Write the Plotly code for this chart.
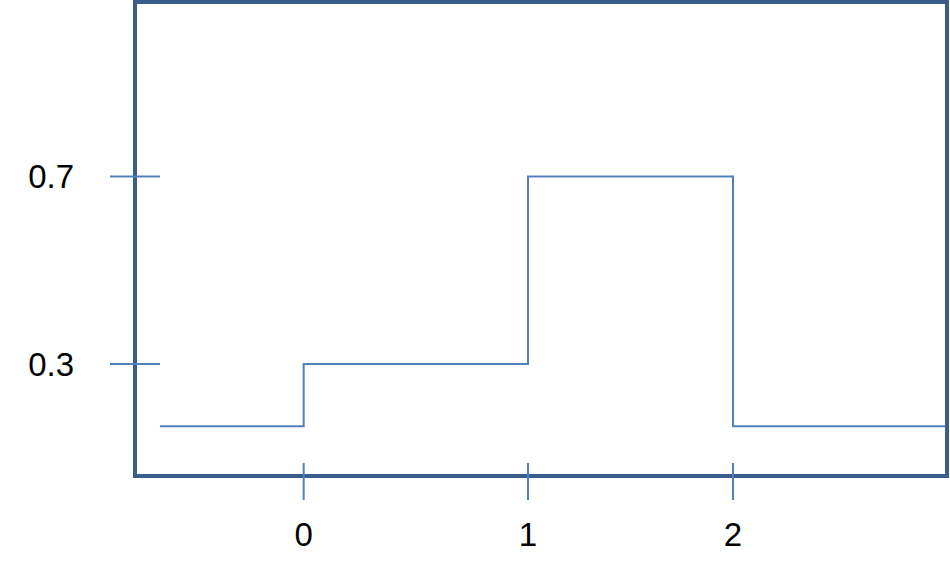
import plotly.graph_objects as go

# Step function
step_x = [-0.641, 0.0, 1.0, 1.914, 2.86]
step_y = [0.167, 0.3, 0.7, 0.167, 0.167]

# Axis ticks
x_tick_pos = [0.0, 1.0, 1.914]
x_tick_text = ["0", "1", "2"]
y_tick_pos = [0.3, 0.7]
y_tick_text = ["0.3", "0.7"]

LINE_COLOR = "#4F81BD"
BORDER_COLOR = "#385D8A"

W, H = 950, 579
ML, MR, MT, MB = 135, 3, 2, 103
PW = W - ML - MR
PH = H - MT - MB

fig = go.Figure()
fig.add_trace(go.Scatter(
    x=step_x, y=step_y, mode="lines",
    line=dict(shape="hv", color=LINE_COLOR, width=2),
    hoverinfo="skip", showlegend=False,
))

shapes = []
# frame
shapes.append(dict(type="rect", xref="paper", yref="paper", x0=0, x1=1, y0=0, y1=1,
                   line=dict(color=BORDER_COLOR, width=4), layer="above"))
# y tick marks crossing the frame
for v in y_tick_pos:
    shapes.append(dict(type="line", xref="paper", yref="y",
                       x0=-25 / PW, x1=25 / PW, y0=v, y1=v,
                       line=dict(color=LINE_COLOR, width=2)))
# x tick marks crossing the frame
for v in x_tick_pos:
    shapes.append(dict(type="line", xref="x", yref="paper",
                       x0=v, x1=v, y0=-24 / PH, y1=13 / PH,
                       line=dict(color=LINE_COLOR, width=2)))

fig.update_layout(
    width=W, height=H,
    margin=dict(l=ML, r=MR, t=MT, b=MB),
    paper_bgcolor="white", plot_bgcolor="white",
    shapes=shapes,
    font=dict(family="Liberation Sans, Arial, sans-serif", size=33, color="black"),
    xaxis=dict(range=[-0.752, 2.868], showgrid=False, zeroline=False, showline=False,
               tickmode="array", tickvals=x_tick_pos, ticktext=x_tick_text,
               ticks="", ticklabelstandoff=36, fixedrange=True),
    yaxis=dict(range=[0.0611, 1.072], showgrid=False, zeroline=False, showline=False,
               tickmode="array", tickvals=y_tick_pos, ticktext=y_tick_text,
               ticks="", ticklabelstandoff=60, fixedrange=True),
)

fig.write_html("out.html")
